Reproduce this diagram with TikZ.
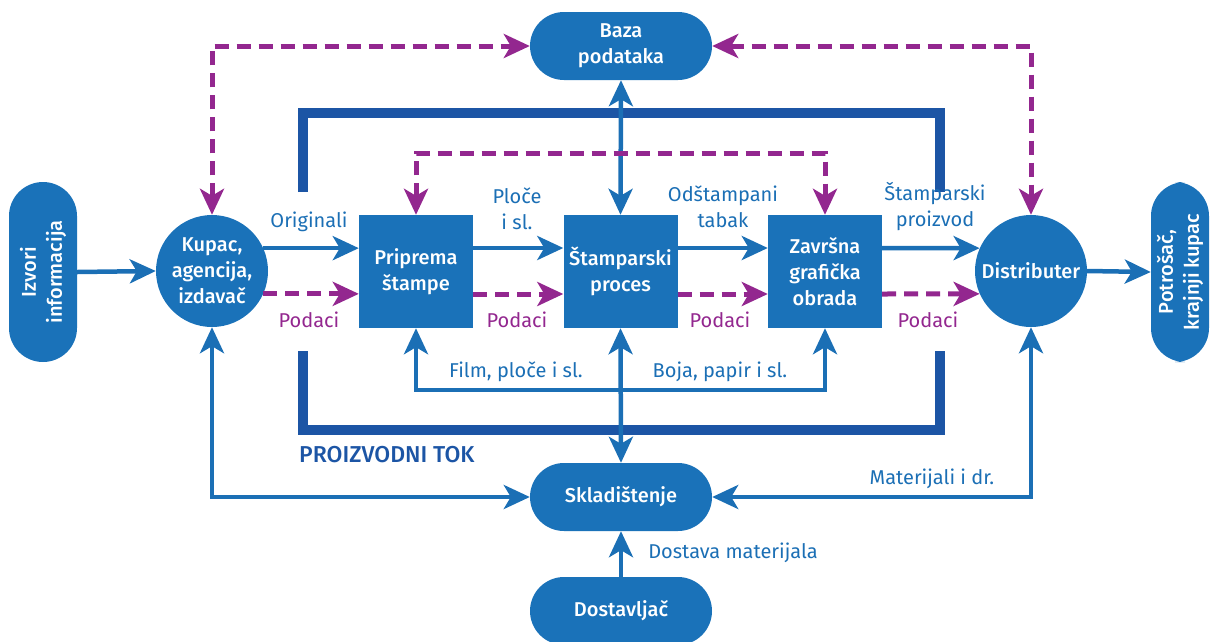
\documentclass[tikz,border=0pt]{standalone}
\usepackage{fontspec}
\setmainfont{Fira Sans}[BoldFont=Fira Sans Medium]
\usetikzlibrary{arrows.meta}
\definecolor{nodeblue}{HTML}{1A72B9}
\definecolor{lineblue}{HTML}{1B6FB5}
\definecolor{darkblue}{HTML}{1C55A5}
\definecolor{purp}{HTML}{93278F}
\tikzset{
  tipb/.tip={Stealth[length=26pt,width=24pt,inset=7pt]},
  pill/.style={draw=none,fill=nodeblue,rounded corners=34pt,minimum width=182pt,minimum height=68pt,inner sep=0pt,text=white,font=\bfseries\fontsize{20}{26}\selectfont,align=center},
  vpill/.style={pill,rotate=90,minimum width=180pt},
  boxn/.style={fill=nodeblue,minimum width=114pt,minimum height=113pt,inner sep=0pt,text=white,font=\bfseries\fontsize{20}{26}\selectfont,align=center},
  circn/.style={circle,fill=nodeblue,minimum size=112pt,inner sep=0pt,text=white,font=\bfseries\fontsize{20}{26}\selectfont,align=center},
  flow/.style={draw=lineblue,line width=4.5pt},
  dflow/.style={draw=purp,line width=5pt,dash pattern=on 14pt off 8pt},
  lbl/.style={text=lineblue,font=\fontsize{20}{26}\selectfont,align=center,inner sep=0pt},
  plbl/.style={text=purp,font=\fontsize{20}{26}\selectfont,inner sep=0pt},
  frame/.style={draw=darkblue,line width=10pt}
}
\begin{document}
\begin{tikzpicture}[x=1pt,y=-1pt]
\useasboundingbox (0,0) rectangle (1211,641);
% frame (PROIZVODNI TOK)
\coordinate (f1) at (303,192);
\coordinate (f2) at (940,192);
\coordinate (f3) at (303,351);
\coordinate (f4) at (940,351);
\draw[frame] (f1) -- (303,113) -- (940,113) -- (f2);
\draw[frame] (f3) -- (303,430) -- (940,430) -- (f4);
% nodes
\node[vpill,minimum height=68pt] (izv) at (43,272) {Izvori\\informacija};
\node[vpill,minimum height=58pt] (pot) at (1180,272) {Potrošač,\\krajnji kupac};
\node[pill] (baza) at (621,46) {Baza\\podataka};
\node[pill] (skl) at (621,497) {Skladištenje};
\node[pill] (dos) at (621,611) {Dostavljač};
\node[circn] (kup) at (212,271) {Kupac,\\agencija,\\izdavač};
\node[circn] (dist) at (1031,271) {Distributer};
\node[boxn] (prip) at (416,271.5) {Priprema\\štampe};
\node[boxn] (stam) at (620.5,271.5) {Štamparski\\proces};
\node[boxn] (zav) at (825,271.5) {Završna\\grafička\\obrada};
% solid flows
\draw[flow,-tipb] (izv.south) -- (kup.west);
\draw[flow,-tipb] (kup.24) -- (kup.24 -| prip.west);
\draw[flow,-tipb] (prip.east |- 0,248) -- (stam.west |- 0,248);
\draw[flow,-tipb] (stam.east |- 0,248) -- (zav.west |- 0,248);
\draw[flow,-tipb] (zav.east |- 0,248) -- (dist.156);
\draw[flow,-tipb] (dist.east) -- (pot.north);
\draw[flow,tipb-tipb] (baza.south) -- (stam.north);
\draw[flow,tipb-tipb] (stam.south) -- (skl.north);
\draw[flow,tipb-tipb] (prip.south) -- (prip.south |- 0,390) -- (zav.south |- 0,390) -- (zav.south);
\draw[flow,tipb-tipb] (kup.south) -- (kup.south |- skl.west) -- (skl.west);
\draw[flow,tipb-tipb] (dist.south) -- (dist.south |- skl.east) -- (skl.east);
\draw[flow,-tipb] (dos.north) -- (skl.south);
% dashed data flows
\draw[dflow,-tipb] (kup.-24) -- (kup.-24 -| prip.west);
\draw[dflow,-tipb] (prip.east |- 0,294) -- (stam.west |- 0,294);
\draw[dflow,-tipb] (stam.east |- 0,294) -- (zav.west |- 0,294);
\draw[dflow,-tipb] (zav.east |- 0,294) -- (dist.204);
\draw[dflow,tipb-tipb] (kup.north) -- (kup.north |- baza.west) -- (baza.west);
\draw[dflow,tipb-tipb] (baza.east) -- (dist.north |- baza.east) -- (dist.north);
\draw[dflow,tipb-tipb] (prip.north) -- (prip.north |- 0,153) -- (zav.north |- 0,153) -- (zav.north);
% labels
\node[lbl] (lorig) at (309,222) {Originali};
\node[lbl] (lploce) at (517,209) {Ploče\\i sl.};
\node[lbl] (lods) at (723,207) {Odštampani\\tabak};
\node[lbl] (lproiz) at (935,207) {Štamparski\\proizvod};
\node[plbl] (lp1) at (309,320) {Podaci};
\node[plbl] (lp2) at (517,320) {Podaci};
\node[plbl] (lp3) at (720,320) {Podaci};
\node[plbl] (lp4) at (928,320) {Podaci};
\node[lbl] (lfilm) at (516,372) {Film, ploče i sl.};
\node[lbl] (lboja) at (720,372) {Boja, papir i sl.};
\node[lbl] (lmat) at (932,479) {Materijali i dr.};
\node[lbl] (ldost) at (733,553) {Dostava materijala};
\node[text=darkblue,font=\bfseries\fontsize{23}{28}\selectfont,inner sep=0pt,anchor=west] (ltok) at (299,455) {PROIZVODNI TOK};
\end{tikzpicture}
\end{document}
